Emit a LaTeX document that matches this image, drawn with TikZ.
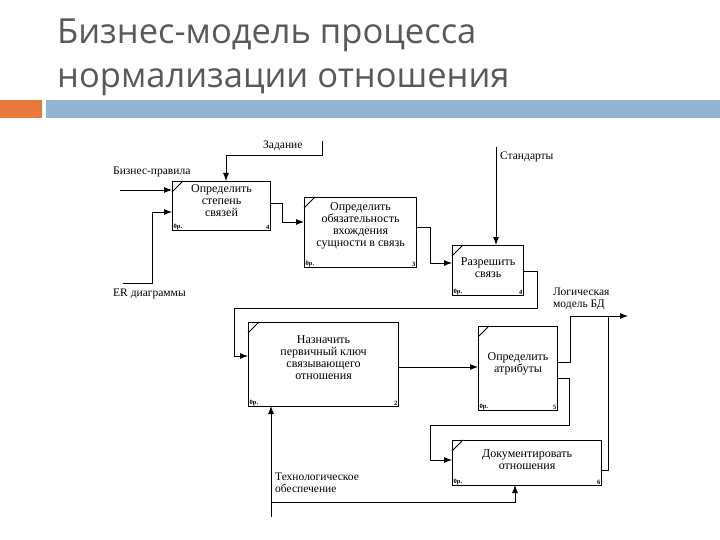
\documentclass[tikz,border=0pt]{standalone}
\usepackage{fontspec}
\setmainfont{Liberation Serif}
\newfontfamily\titlefont{Open Sans}
\usetikzlibrary{arrows.meta}
\definecolor{barblue}{RGB}{146,180,210}
\definecolor{barorange}{RGB}{232,120,60}
\begin{document}
\begin{tikzpicture}[x=1pt,y=-1pt,
  box/.style={draw,line width=1.1pt,inner sep=0pt,anchor=north west},
  ln/.style={line width=0.9pt},
  ar/.style={line width=0.9pt,-{Latex[length=8pt,width=6pt]}},
  lbl/.style={font=\fontsize{11.5}{12}\selectfont,inner sep=0pt,align=left},
  sm/.style={font=\fontsize{6.5}{6.5}\selectfont\bfseries,inner sep=1.5pt}]
\useasboundingbox (0,0) rectangle (720,540);
\fill[white] (0,0) rectangle (720,540);
\fill[barorange] (0,100) rectangle (42,118);
\fill[barblue] (46,100) rectangle (720,118);
\node[anchor=west,inner sep=0pt,text=black!65,font=\titlefont\fontsize{34.5}{34.5}\selectfont] (t1) at (57,35) {Бизнес-модель процесса};
\node[anchor=west,inner sep=0pt,text=black!65,font=\titlefont\fontsize{34.5}{34.5}\selectfont] (t2) at (57,82) {нормализации отношения};
\newcommand{\idefbox}[8]{%
 \node[box,minimum width=#4,minimum height=#5] (#1) at (#2,#3) {};
 \node[align=center,inner sep=0pt,font=\fontsize{12}{12}\selectfont,anchor=north] at ([yshift=#8]#1.north) {#6};
 \draw[line width=0.9pt] (#2,#3+11) -- (#2+11,#3);
 \node[sm,anchor=south west] at (#1.south west) {0р.};
 \node[sm,anchor=south east] at (#1.south east) {#7};}
\idefbox{b1}{172}{181}{98}{49}{Определить\\степень\\связей}{4}{-3}
\idefbox{b2}{304}{197}{112}{70}{Определить\\обязательность\\вхождения\\сущности в связь}{3}{-5}
\idefbox{b3}{452}{245}{71}{50}{Разрешить\\связь}{4}{-12}
\idefbox{b4}{248}{322}{150}{84}{Назначить\\первичный ключ\\связывающего\\отношения}{2}{-13}
\idefbox{b5}{478}{326}{79}{84}{Определить\\атрибуты}{5}{-26}
\idefbox{b6}{452}{440}{149}{45}{Документировать\\отношения}{6}{-9}
\node[lbl,anchor=south west] (lbp) at (113,177) {Бизнес-правила};
\node[lbl,anchor=north west] (ler) at (113,289) {ER диаграммы};
\node[lbl,anchor=south west] (lz) at (263,151) {Задание};
\node[lbl,anchor=west] (ls) at (500,157) {Стандарты};
\node[lbl,anchor=south west,align=left] (ll) at (553,310) {Логическая\\модель БД};
\node[lbl,anchor=north west,align=left] (lt) at (275,473) {Технологическое\\обеспечение};
\coordinate (s1) at (120,190);
\coordinate (s2) at (123,283);
\coordinate (s3) at (322,141);
\coordinate (s4) at (496,147);
\coordinate (s5) at (271,517);
\coordinate (e1) at (628,316);
\draw[ar] (s1) -- (172,190);
\draw[ar] (s2) -- (152,283) -- (152,212) -- (172,212);
\draw[ar] (s3) -- (322,155) -- (226,155) -- (226,181);
\draw[ar] (270,203) -- (282,203) -- (282,222) -- (304,222);
\draw[ar] (416,227) -- (430,227) -- (430,263) -- (452,263);
\draw[ar] (s4) -- (496,245);
\draw[ar] (523,271) -- (537,271) -- (537,308) -- (234,308) -- (234,356) -- (248,356);
\draw[ar] (398,367) -- (478,367);
\draw[ar] (557,362) -- (570,362) -- (570,316) -- (e1);
\draw[ar] (557,378) -- (569,378) -- (569,425) -- (430,425) -- (430,460) -- (452,460);
\draw[ln] (601,470) -- (608,470) -- (608,316);
\draw[ar] (s5) -- (271,406);
\draw[ar] (271,502) -- (515,502) -- (515,485);
\end{tikzpicture}
\end{document}
